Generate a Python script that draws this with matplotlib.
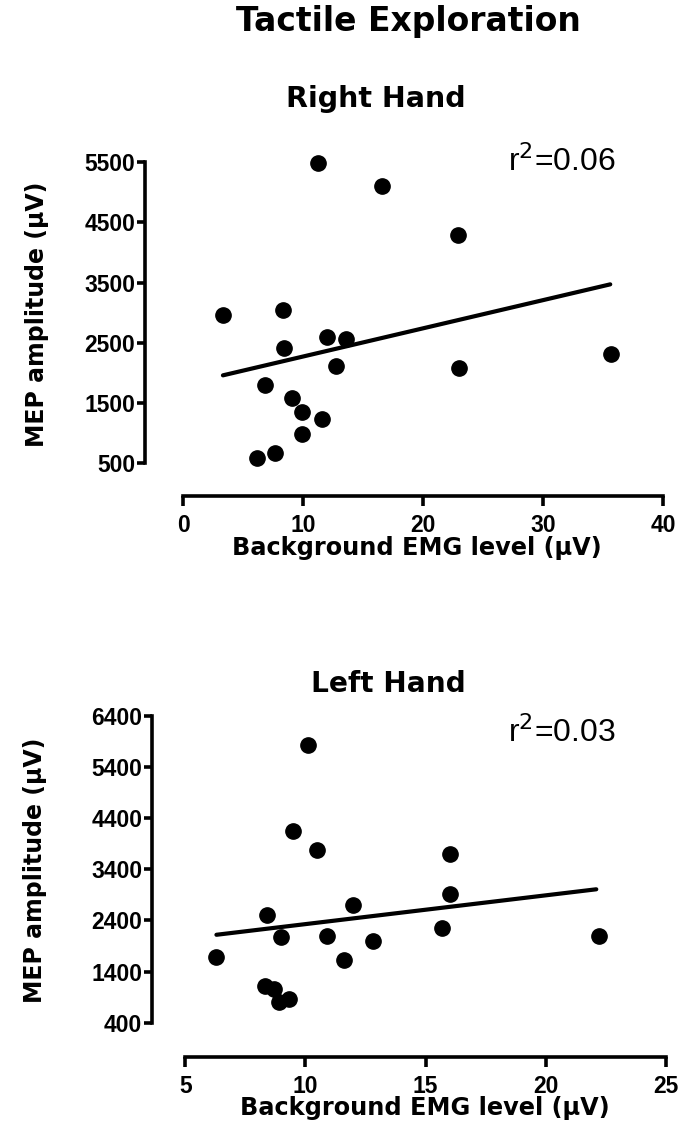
import matplotlib.pyplot as plt
import numpy as np

plt.rcParams["font.family"] = ["Liberation Sans", "DejaVu Sans"]
HEAVY = ["DejaVu Sans"]

# Right hand: background EMG (uV) vs MEP amplitude (uV)
right_emg = [11.2, 16.6, 22.9, 3.3, 8.3, 12.0, 13.6, 8.4, 12.7, 23.0, 35.7,
             6.8, 9.1, 9.9, 11.6, 9.9, 6.1, 7.6]
right_mep = [5490, 5110, 4290, 2960, 3040, 2600, 2560, 2420, 2120, 2080, 2310,
             1800, 1590, 1360, 1240, 990, 590, 670]
right_fit_x = [3.3, 35.6]
right_fit_y = [1960, 3470]
right_r2 = "0.06"

# Left hand
left_emg = [10.1, 9.5, 10.5, 16.0, 16.0, 12.0, 8.4, 15.7, 22.2, 9.0, 10.9,
            12.8, 6.3, 11.6, 8.3, 8.7, 9.3, 8.9]
left_mep = [5830, 4150, 3780, 3710, 2920, 2700, 2510, 2250, 2090, 2070, 2100,
            2000, 1680, 1630, 1120, 1050, 860, 810]
left_fit_x = [6.3, 22.1]
left_fit_y = [2120, 3010]
left_r2 = "0.03"

right_xticks = [0, 10, 20, 30, 40]
right_yticks = [500, 1500, 2500, 3500, 4500, 5500]
left_xticks = [5, 10, 15, 20, 25]
left_yticks = [400, 1400, 2400, 3400, 4400, 5400, 6400]


def style_axes(ax, xticks, yticks, xlab_pos, ylab_pos):
    for side in ("top", "right"):
        ax.spines[side].set_visible(False)
    for side in ("left", "bottom"):
        ax.spines[side].set_linewidth(2.6)
    ax.spines["bottom"].set_bounds(xticks[0], xticks[-1])
    ax.spines["left"].set_bounds(yticks[0], yticks[-1])
    ax.set_xticks(xticks)
    ax.set_yticks(yticks)
    ax.tick_params(axis="x", length=7, width=2.6, pad=6, labelsize=16.5)
    ax.tick_params(axis="y", length=6, width=2.6, pad=1, labelsize=16.5)
    for lab in ax.get_xticklabels() + ax.get_yticklabels():
        lab.set_fontweight("bold")
    ax.set_xlabel("Background EMG level (µV)", fontsize=17.3, fontweight="bold",
                  family=HEAVY)
    ax.set_ylabel("MEP amplitude (µV)", fontsize=17, fontweight="bold", family=HEAVY)
    ax.xaxis.set_label_coords(*xlab_pos)
    ax.yaxis.set_label_coords(*ylab_pos)
    ax.xaxis.label.set_verticalalignment("center")
    ax.yaxis.label.set_verticalalignment("center")


W, H = 682, 1139
fig = plt.figure(figsize=(W / 100, H / 100), dpi=100)
fig.patch.set_facecolor("white")

ax1 = fig.add_axes([145 / W, 1 - 496 / H, (663 - 145) / W, (496 - 162) / H])
ax1.set_xlim(-3.2, 40)
ax1.set_ylim(-42, 5500)
ax1.plot(right_emg, right_mep, "o", color="black", ms=11, clip_on=False)
ax1.plot(right_fit_x, right_fit_y, color="black", lw=3, solid_capstyle="round")
style_axes(ax1, right_xticks, right_yticks, (0.525, -0.156), (-0.208, 0.545))
fig.text(562 / W, 1 - 162 / H, f"r$^2$={right_r2}", fontsize=23, ha="center", va="center")

ax2 = fig.add_axes([152 / W, 1 - 1057 / H, (666 - 152) / W, (1057 - 716) / H])
ax2.set_xlim(3.62, 25)
ax2.set_ylim(-271, 6400)
ax2.plot(left_emg, left_mep, "o", color="black", ms=11, clip_on=False)
ax2.plot(left_fit_x, left_fit_y, color="black", lw=3, solid_capstyle="round")
style_axes(ax2, left_xticks, left_yticks, (0.531, -0.150), (-0.228, 0.548))
fig.text(562 / W, 1 - 733 / H, f"r$^2$={left_r2}", fontsize=23, ha="center", va="center")

fig.text(408 / W, 1 - 22 / H, "Tactile Exploration", fontsize=23.8, fontweight="bold",
         family=HEAVY, ha="center", va="center")
fig.text(376 / W, 1 - 99 / H, "Right Hand", fontsize=20.5, fontweight="bold",
         family=HEAVY, ha="center", va="center")
fig.text(388 / W, 1 - 684 / H, "Left Hand", fontsize=20.2, fontweight="bold",
         family=HEAVY, ha="center", va="center")

fig.savefig("out.png", dpi=100)
